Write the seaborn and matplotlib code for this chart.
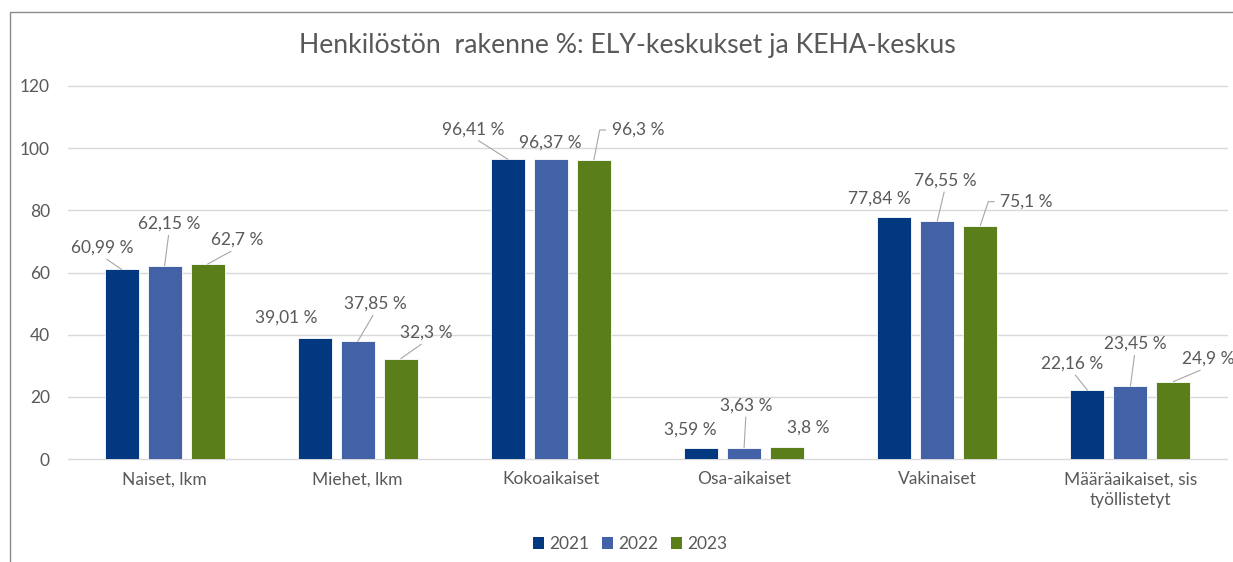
import matplotlib
matplotlib.use("Agg")
import matplotlib.pyplot as plt
from matplotlib.lines import Line2D
from matplotlib.patches import Patch
import seaborn as sns
import pandas as pd

# ---------------- data ----------------
categories = ["Naiset, lkm", "Miehet, lkm", "Kokoaikaiset", "Osa-aikaiset",
              "Vakinaiset", "Määräaikaiset, sis\ntyöllistetyt"]
years = ["2021", "2022", "2023"]
values_2021 = [60.99, 39.01, 96.41, 3.59, 77.84, 22.16]
values_2022 = [62.15, 37.85, 96.37, 3.63, 76.55, 23.45]
values_2023 = [62.7, 32.3, 96.3, 3.8, 75.1, 24.9]
y_ticks = [0, 20, 40, 60, 80, 100, 120]
title = "Henkilöstön  rakenne %: ELY-keskukset ja KEHA-keskus"

# ---------------- styling / label layout ----------------
colors = ["#02387F", "#4361A6", "#5A7F1A"]
text_color = "#595959"
# label offsets in pixels (dx, dy-up) from bar top centre
label_offsets = {
    "2021": [(-19.6, 21.4), (-28.8, 19.8), (-34.5, 29.9), (-11.1, 17.8), (-15.3, 18.4), (-14.8, 26.4)],
    "2022": [(4.4, 41.8), (17.2, 37.4), (-0.5, 16.5), (1.9, 42.0), (7.7, 40.4), (4.5, 42.1)],
    "2023": [(29.4, 24.1), (25.2, 25.6), (44.0, 29.7), (20.9, 19.2), (46.3, 23.9), (34.5, 22.6)],
}
leader = {
    "2021": [True, False, True, False, False, True],
    "2022": [True, True, False, True, True, True],
    "2023": [True, True, "bracket", False, "bracket", True],
}

rows = []
for yr, vals in zip(years, [values_2021, values_2022, values_2023]):
    for c, v in zip(categories, vals):
        rows.append({"category": c, "year": yr, "value": v})
df = pd.DataFrame(rows)

sns.set_style("white")
plt.rcParams["font.family"] = ["Lato", "DejaVu Sans"]

W, H = 1233, 562
fig = plt.figure(figsize=(W / 100, H / 100), dpi=100)
ax = fig.add_axes([68 / W, 1 - 459 / H, (1227 - 68) / W, (459 - 86) / H])

sns.barplot(data=df, x="category", y="value", hue="year", order=categories,
            hue_order=years, palette=colors, width=0.668, gap=0.21,
            edgecolor="white", linewidth=0.6, saturation=1, ax=ax)

ax.set_ylim(0, 120)
ax.set_yticks(y_ticks)
ax.set_xlabel("")
ax.set_ylabel("")
for s in ax.spines.values():
    s.set_visible(False)
ax.set_axisbelow(True)
ax.yaxis.grid(True, color="#D9D9D9", linewidth=1.0)
for gl in ax.get_ygridlines():
    gl.set_clip_on(False)
ax.xaxis.grid(False)
ax.tick_params(axis="y", length=0, pad=13, labelsize=12.5, labelcolor=text_color)
ax.tick_params(axis="x", length=0, pad=9, labelsize=12.5, labelcolor=text_color)
for t in ax.get_xticklabels():
    t.set_linespacing(1.38)

leg = ax.get_legend()
if leg is not None:
    leg.remove()

# data labels
for yr, cont in zip(years, ax.containers):
    for k, bar in enumerate(cont):
        v = bar.get_height()
        xc = bar.get_x() + bar.get_width() / 2
        txt = f"{v:g}".replace(".", ",") + " %"
        dx, dy = label_offsets[yr][k]
        mode = leader[yr][k]
        kw = {}
        if mode is True:
            kw["arrowprops"] = dict(arrowstyle="-", color="#A6A6A6", lw=0.8,
                                    shrinkA=0, shrinkB=0, relpos=(0.5, 0.0))
        elif mode == "bracket":
            kw["arrowprops"] = dict(arrowstyle="-", color="#A6A6A6", lw=0.8,
                                    shrinkA=2, shrinkB=0, relpos=(0.0, 0.5),
                                    connectionstyle="arc,angleA=180,armA=12,angleB=0,armB=0,rad=0")
        ax.annotate(txt, xy=(xc, v), xytext=(dx, dy), textcoords="offset pixels",
                    ha="center", va="center", fontsize=12.5, color=text_color,
                    annotation_clip=False, **kw)

# title
fig.text(627 / W, 1 - 46 / H, title, ha="center", va="center",
         fontsize=19.2, color=text_color)

# legend
handles = [Patch(facecolor=c, edgecolor="none") for c in colors]
fig.legend(handles, years, loc="center", bbox_to_anchor=(630 / W, 1 - 544 / H),
           ncol=3, frameon=False, fontsize=12.5, labelcolor=text_color,
           handlelength=0.62, handleheight=0.62, handletextpad=0.3,
           columnspacing=0.75)

# chart frame (top & left edges visible)
fig.add_artist(Line2D([10 / W, 1.0], [1 - 12 / H, 1 - 12 / H], transform=fig.transFigure,
                      color="#8A8A8A", lw=1.0))
fig.add_artist(Line2D([10 / W, 10 / W], [0.0, 1 - 12 / H], transform=fig.transFigure,
                      color="#8A8A8A", lw=1.0))

fig.savefig("out.png", dpi=100)
